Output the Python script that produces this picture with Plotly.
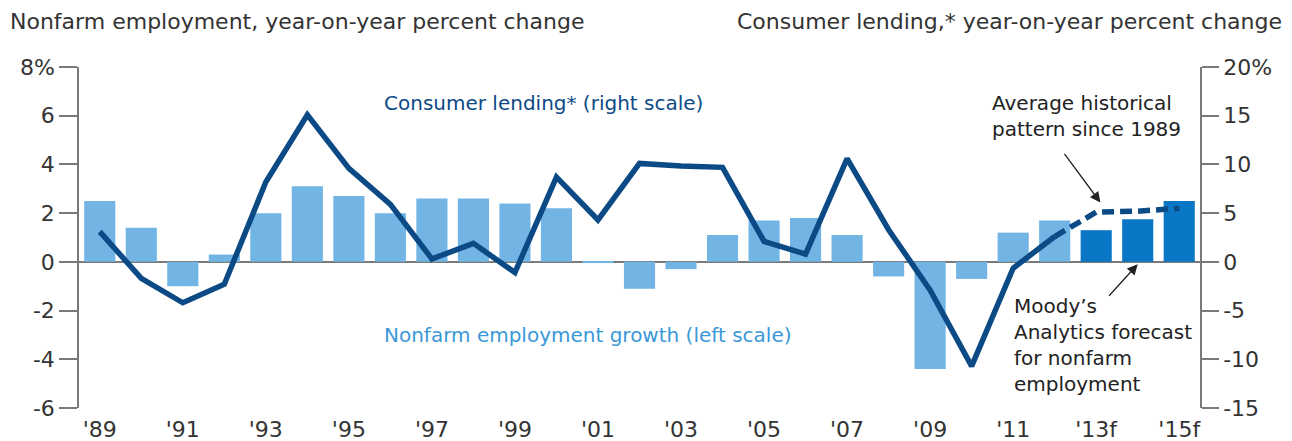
import plotly.graph_objects as go

# Years 1989-2015 (2013-2015 are forecasts)
years = list(range(1989, 2016))
employment_growth = [2.5, 1.4, -1.0, 0.3, 2.0, 3.1, 2.7, 2.0, 2.6, 2.6, 2.4, 2.2, -0.05,
                     -1.1, -0.3, 1.1, 1.7, 1.8, 1.1, -0.6, -4.4, -0.7, 1.2, 1.7,
                     1.3, 1.75, 2.5]
forecast_flags = [y >= 2013 for y in years]

consumer_lending = [3.1, -1.7, -4.2, -2.3, 8.2, 15.1, 9.6, 5.9, 0.3, 1.9, -1.1, 8.7, 4.3,
                    10.1, 9.85, 9.7, 2.1, 0.8, 10.6, 3.3, -2.9, -10.7, -0.65, 2.6]
lending_pattern_years = [2012, 2013, 2014, 2015]
lending_pattern = [2.6, 5.1, 5.2, 5.5]

tick_years = list(range(1989, 2016, 2))
tick_text = ["'89", "'91", "'93", "'95", "'97", "'99", "'01", "'03", "'05", "'07",
             "'09", "'11", "'13f", "'15f"]
left_ticks = [-6, -4, -2, 0, 2, 4, 6, 8]
left_labels = ["-6", "-4", "-2", "0", "2", "4", "6", "8%"]
right_ticks = [-15, -10, -5, 0, 5, 10, 15, 20]
right_labels = ["-15", "-10", "-5", "0", "5", "10", "15", "20%"]

LIGHT = "#72b5e5"
DARK = "#0a77c6"
NAVY = "#0c4a86"
AXIS = "#7a7a7a"
FONT = "DejaVu Sans"

fig = go.Figure()
fig.add_trace(go.Bar(
    x=years, y=employment_growth,
    marker=dict(color=[DARK if f else LIGHT for f in forecast_flags], line=dict(width=0)),
    yaxis="y", showlegend=False,
))
fig.add_trace(go.Scatter(
    x=years[:len(consumer_lending)], y=consumer_lending, mode="lines",
    line=dict(color=NAVY, width=5.5), yaxis="y2", showlegend=False,
))
fig.add_trace(go.Scatter(
    x=lending_pattern_years, y=lending_pattern, mode="lines",
    line=dict(color=NAVY, width=5.5, dash="12px,6px"), yaxis="y2", showlegend=False,
))

fig.update_layout(
    width=1292, height=441,
    margin=dict(l=79, r=92, t=67, b=33),
    plot_bgcolor="white", paper_bgcolor="white",
    bargap=0.25,
    font=dict(family=FONT, size=20, color="#333333"),
    xaxis=dict(
        range=[1988.5, 2015.5], tickvals=tick_years, ticktext=tick_text,
        showgrid=False, zeroline=False, showline=False, ticks="", automargin=False,
        ticklabelstandoff=6,
        tickfont=dict(size=22, color="#333333"),
    ),
    yaxis=dict(
        range=[-6, 8], tickvals=left_ticks, ticktext=left_labels, automargin=False,
        showgrid=False, zeroline=True, zerolinecolor=AXIS, zerolinewidth=1.5,
        showline=True, linecolor=AXIS, linewidth=1.5,
        ticks="outside", ticklen=18, tickcolor=AXIS, tickwidth=1.5,
        tickfont=dict(size=22, color="#333333"),
    ),
    yaxis2=dict(
        range=[-15, 20], tickvals=right_ticks, ticktext=right_labels,
        overlaying="y", side="right", anchor="x", automargin=False,
        showgrid=False, zeroline=False,
        showline=True, linecolor=AXIS, linewidth=1.5,
        ticks="outside", ticklen=17, tickcolor=AXIS, tickwidth=1.5,
        tickfont=dict(size=22, color="#333333"),
    ),
)

annotations = [
    dict(text="Nonfarm employment, year-on-year percent change", xref="paper", yref="paper",
         x=-0.0635, y=1.132, xanchor="left", yanchor="middle", showarrow=False,
         font=dict(size=22, color="#333333")),
    dict(text="Consumer lending,* year-on-year percent change", xref="paper", yref="paper",
         x=1.0745, y=1.132, xanchor="right", yanchor="middle", showarrow=False,
         font=dict(size=22, color="#333333")),
    dict(text="Consumer lending* (right scale)", xref="paper", yref="paper",
         x=0.270, y=0.893, xanchor="left", yanchor="middle", showarrow=False,
         font=dict(size=20, color=NAVY)),
    dict(text="Nonfarm employment growth (left scale)", xref="paper", yref="paper",
         x=0.270, y=0.214, xanchor="left", yanchor="middle", showarrow=False,
         font=dict(size=20, color="#3a98d8")),
    dict(text="Average historical<br>pattern since 1989", xref="paper", yref="paper",
         x=0.8127, y=0.855, xanchor="left", yanchor="middle", align="left", showarrow=False,
         font=dict(size=20, color="#222222")),
    dict(text="Moody\u2019s<br>Analytics forecast<br>for nonfarm<br>employment", xref="paper",
         yref="paper", x=0.8323, y=0.185, xanchor="left", yanchor="middle", align="left",
         showarrow=False, font=dict(size=20, color="#222222")),
    # arrow to the dashed lending pattern
    dict(text="", x=2013.1, y=6.1, xref="x", yref="y2", ax=-37, ay=-50,
         showarrow=True, arrowhead=2, arrowsize=1.6, arrowwidth=1.3, arrowcolor="#222222"),
    # arrow to the forecast bars
    dict(text="", x=2014.0, y=-0.1, xref="x", yref="y", ax=-30, ay=33,
         showarrow=True, arrowhead=2, arrowsize=1.6, arrowwidth=1.3, arrowcolor="#222222"),
]
fig.update_layout(annotations=annotations)

fig.write_html("out.html")
